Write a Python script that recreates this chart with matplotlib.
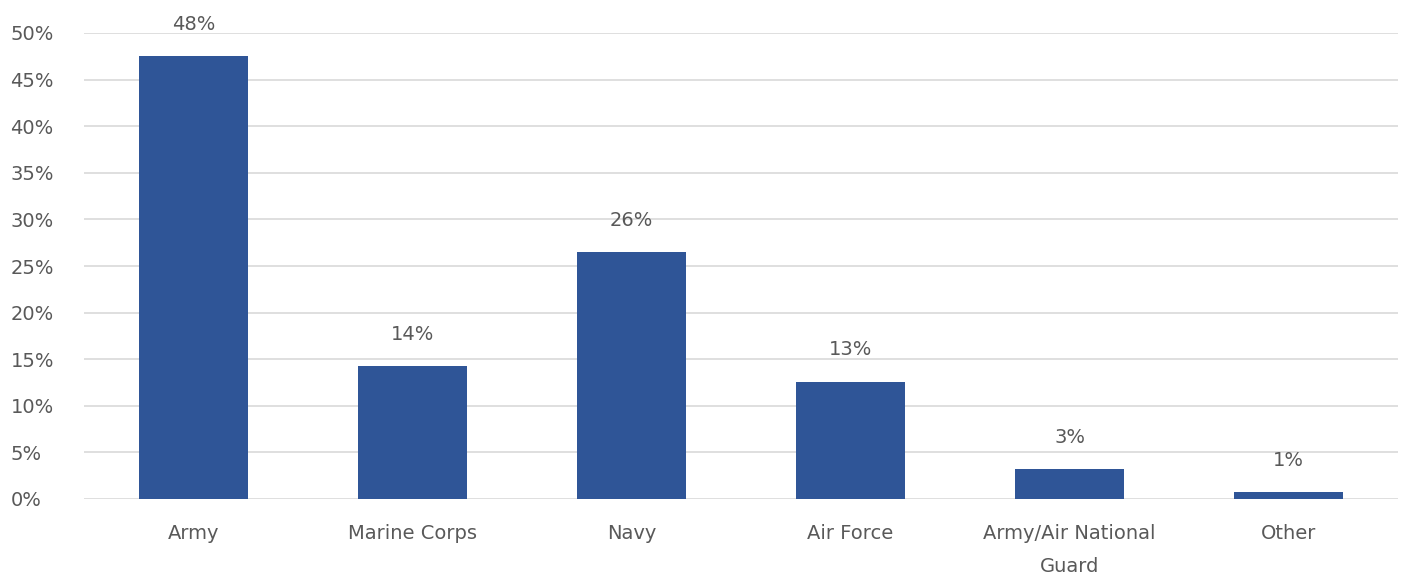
import matplotlib
matplotlib.use("Agg")
import matplotlib.pyplot as plt
from matplotlib.ticker import FuncFormatter, MultipleLocator

categories = ["Army", "Marine Corps", "Navy", "Air Force", "Army/Air National\nGuard", "Other"]
values = [47.5, 14.3, 26.5, 12.6, 3.2, 0.75]
labels = ["48%", "14%", "26%", "13%", "3%", "1%"]

plt.rcParams['font.family'] = ['DejaVu Sans']
text_color = "#595959"
fs = 14

fig = plt.figure(figsize=(14.05, 5.81), dpi=100)
ax = fig.add_axes([84/1405, 1-499/581, (1398-84)/1405, (499-33)/581])

x = range(len(categories))
ax.bar(x, values, width=0.5, color="#2F5597", zorder=3)
for xi, v, lab in zip(x, values, labels):
    ax.annotate(lab, (xi, v), xytext=(0, 16), textcoords="offset points",
                ha="center", va="bottom", fontsize=fs, color=text_color)

ax.set_xlim(-0.5, len(categories) - 0.5)
ax.set_ylim(0, 50)
ax.yaxis.set_major_locator(MultipleLocator(5))
ax.yaxis.set_major_formatter(FuncFormatter(lambda v, p: f"{int(round(v))}%"))
ax.set_xticks(list(x))
ax.set_xticklabels(categories, fontsize=fs, color=text_color, linespacing=1.95)
ax.tick_params(axis="y", labelsize=fs, labelcolor=text_color, length=0, pad=53)
ax.tick_params(axis="x", length=0, pad=18)
for lab in ax.get_yticklabels():
    lab.set_horizontalalignment("left")
ax.grid(axis="y", color="#D9D9D9", linewidth=1.2, zorder=0)
for s in ax.spines.values():
    s.set_visible(False)

fig.savefig("out.png", dpi=100, facecolor="white")
